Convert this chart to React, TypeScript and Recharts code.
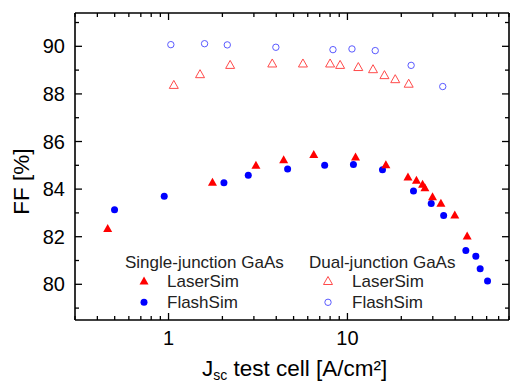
import React from "react";
import { ScatterChart, Scatter, XAxis, YAxis } from "recharts";

// x = Jsc of test cell [A/cm²], y = FF [%]
const sjLaserX = [0.457, 1.76, 3.08, 4.4, 6.48, 11.1, 16.4, 21.8, 24.3, 26.3, 27.1, 29.9, 33.3, 39.8, 46.7];
const sjLaserY = [82.37, 84.31, 85.02, 85.25, 85.48, 85.37, 85.04, 84.53, 84.39, 84.22, 84.08, 83.7, 83.43, 82.93, 82.05];

const sjFlashX = [0.499, 0.946, 2.04, 2.79, 4.63, 7.46, 10.8, 15.7, 23.4, 29.4, 34.5, 45.9, 52.2, 55.2, 60.7];
const sjFlashY = [83.13, 83.7, 84.27, 84.58, 84.85, 85.0, 85.03, 84.81, 83.92, 83.4, 82.89, 81.42, 81.18, 80.65, 80.14];

const djLaserX = [1.07, 1.5, 2.21, 3.8, 5.64, 8.0, 9.1, 11.5, 13.9, 16.1, 18.5, 22.0];
const djLaserY = [88.4, 88.85, 89.24, 89.3, 89.3, 89.3, 89.24, 89.15, 89.06, 88.81, 88.64, 88.45];

const djFlashX = [1.03, 1.59, 2.13, 3.98, 8.3, 10.6, 14.3, 22.7, 34.1];
const djFlashY = [90.07, 90.11, 90.06, 89.96, 89.86, 89.89, 89.82, 89.2, 88.31];

const xTicks = [0.3, 0.4, 0.5, 0.6, 0.7, 0.8, 0.9, 1, 2, 3, 4, 5, 6, 7, 8, 9, 10, 20, 30, 40, 50, 60, 70, 80];
const xLabels = [1, 10];
const yTicks = [79, 80, 81, 82, 83, 84, 85, 86, 87, 88, 89, 90, 91];
const yLabels = [80, 82, 84, 86, 88, 90];

const toPoints = (xs: number[], ys: number[]) => xs.map((x, i) => ({ x, y: ys[i] }));

const FONT = "'Liberation Sans', Arial, sans-serif";
const RED = "#ff0000";
const BLUE = "#0000ff";
const LRED = "#ff4a4a";
const LBLUE = "#5a5aff";

const Tri = ({ cx, cy, fill, stroke }: any) => (
  <polygon
    points={`${cx - 4.5},${cy + 4} ${cx + 4.5},${cy + 4} ${cx},${cy - 4}`}
    fill={fill}
    stroke={stroke}
    strokeWidth={1}
  />
);
const Dot = ({ cx, cy, fill, stroke }: any) => (
  <circle cx={cx} cy={cy} r={fill === "none" ? 3.2 : 3.5} fill={fill} stroke={stroke} strokeWidth={1} />
);

const BottomTick = (props: any) => {
  const { x, y, payload } = props;
  const major = xLabels.includes(payload.value);
  return (
    <g>
      <line x1={x} x2={x} y1={y} y2={y - (major ? 7 : 4)} stroke="#000" strokeWidth={1.3} />
      {major && (
        <text x={x} y={y + 25} textAnchor="middle" fontSize={20} fontFamily={FONT} fill="#000">
          {payload.value}
        </text>
      )}
    </g>
  );
};
const TopTick = (props: any) => {
  const { x, y, payload } = props;
  const major = xLabels.includes(payload.value);
  return <line x1={x} x2={x} y1={y} y2={y + (major ? 7 : 4)} stroke="#000" strokeWidth={1.3} />;
};
const LeftTick = (props: any) => {
  const { x, y, payload } = props;
  const major = yLabels.includes(payload.value);
  return (
    <g>
      <line x1={x} x2={x + (major ? 7 : 4)} y1={y} y2={y} stroke="#000" strokeWidth={1.3} />
      {major && (
        <text x={x - 10} y={y + 7} textAnchor="end" fontSize={20} fontFamily={FONT} fill="#000">
          {payload.value}
        </text>
      )}
    </g>
  );
};
const RightTick = (props: any) => {
  const { x, y, payload } = props;
  const major = yLabels.includes(payload.value);
  return <line x1={x} x2={x - (major ? 7 : 4)} y1={y} y2={y} stroke="#000" strokeWidth={1.3} />;
};

export default function App() {
  return (
    <div style={{ position: "absolute", left: 0, top: 0, width: 514, height: 381, background: "#fff" }}>
      <ScatterChart width={514} height={381} margin={{ top: 0, right: 0, bottom: 0, left: 0 }}>
        <XAxis
          xAxisId="b"
          dataKey="x"
          type="number"
          scale="log"
          domain={[0.3, 80]}
          allowDataOverflow
          ticks={xTicks}
          interval={0}
          height={61}
          tickSize={0}
          tickMargin={0}
          tick={<BottomTick />}
          axisLine={{ stroke: "#000", strokeWidth: 1.6 }}
          tickLine={false}
        />
        <XAxis
          xAxisId="t"
          orientation="top"
          dataKey="x"
          type="number"
          scale="log"
          domain={[0.3, 80]}
          allowDataOverflow
          ticks={xTicks}
          interval={0}
          height={13}
          tickSize={0}
          tickMargin={0}
          tick={<TopTick />}
          axisLine={{ stroke: "#000", strokeWidth: 1.6 }}
          tickLine={false}
        />
        <YAxis
          yAxisId="l"
          dataKey="y"
          type="number"
          domain={[78.5, 91.4]}
          allowDataOverflow
          ticks={yTicks}
          interval={0}
          width={75}
          tickSize={0}
          tickMargin={0}
          tick={<LeftTick />}
          axisLine={{ stroke: "#000", strokeWidth: 1.6 }}
          tickLine={false}
        />
        <YAxis
          yAxisId="r"
          orientation="right"
          dataKey="y"
          type="number"
          domain={[78.5, 91.4]}
          allowDataOverflow
          ticks={yTicks}
          interval={0}
          width={5}
          tickSize={0}
          tickMargin={0}
          tick={<RightTick />}
          axisLine={{ stroke: "#000", strokeWidth: 1.6 }}
          tickLine={false}
        />
        <Scatter xAxisId="b" yAxisId="l" data={toPoints(djLaserX, djLaserY)} isAnimationActive={false}
          shape={(p: any) => <Tri {...p} fill="none" stroke={LRED} />} />
        <Scatter xAxisId="b" yAxisId="l" data={toPoints(djFlashX, djFlashY)} isAnimationActive={false}
          shape={(p: any) => <Dot {...p} fill="none" stroke={LBLUE} />} />
        <Scatter xAxisId="b" yAxisId="l" data={toPoints(sjFlashX, sjFlashY)} isAnimationActive={false}
          shape={(p: any) => <Dot {...p} fill={BLUE} stroke="none" />} />
        <Scatter xAxisId="b" yAxisId="l" data={toPoints(sjLaserX, sjLaserY)} isAnimationActive={false}
          shape={(p: any) => <Tri {...p} fill={RED} stroke="none" />} />
      </ScatterChart>
      <svg width={514} height={381} style={{ position: "absolute", left: 0, top: 0, pointerEvents: "none" }}>
        <text x={0} y={0} transform="translate(29,181.5) rotate(-90)" textAnchor="middle" fontSize={22.5} fontFamily={FONT} fill="#000">
          FF [%]
        </text>
        <text x={202} y={376} fontSize={22.5} fontFamily={FONT} fill="#000">
          J<tspan fontSize={14} dy={3.5}>sc</tspan>
          <tspan dy={-3.5}> test cell [A/cm²]</tspan>
        </text>
        <g fontSize={17} fontFamily={FONT} fill="#222">
          <text x={125} y={267.8}>Single-junction GaAs</text>
          <text x={167} y={286.8}>LaserSim</text>
          <text x={167} y={308.4}>FlashSim</text>
          <text x={309} y={267.8}>Dual-junction GaAs</text>
          <text x={352} y={286.8}>LaserSim</text>
          <text x={352} y={308.4}>FlashSim</text>
        </g>
        <Tri cx={144} cy={280.5} fill={RED} stroke="none" />
        <Dot cx={144} cy={302.3} fill={BLUE} stroke="none" />
        <Tri cx={328} cy={280.5} fill="none" stroke={LRED} />
        <Dot cx={328} cy={302.3} fill="none" stroke={LBLUE} />
      </svg>
    </div>
  );
}
